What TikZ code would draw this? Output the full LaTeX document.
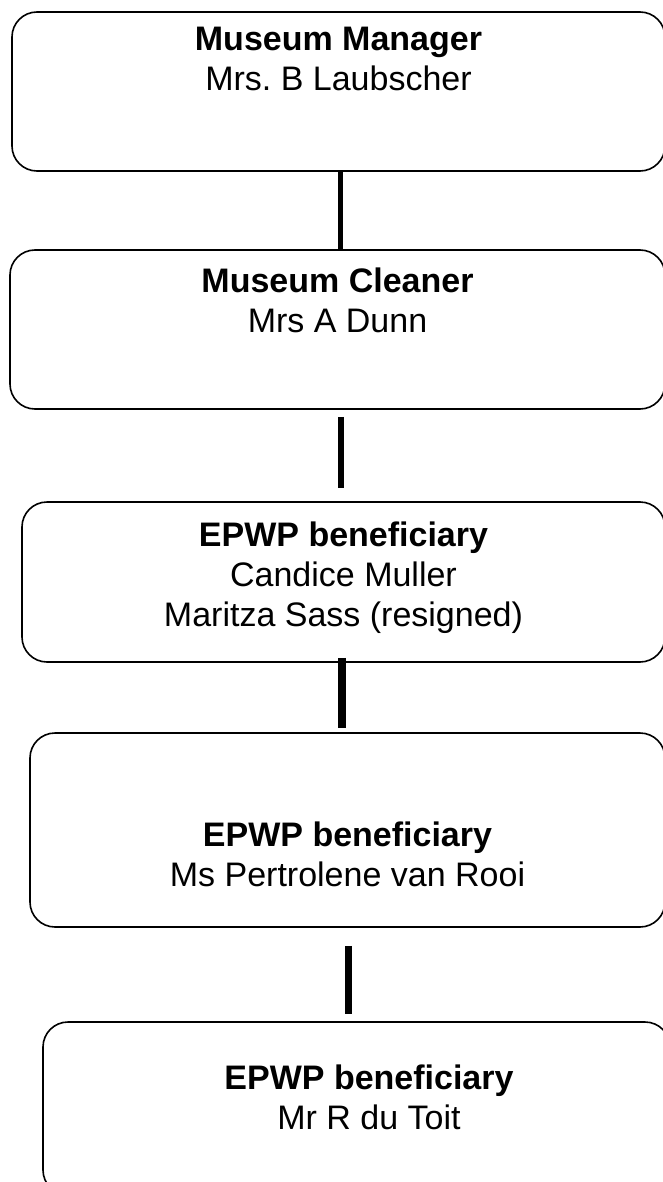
\documentclass[tikz,border=0pt]{standalone}
\usepackage{fontspec}
\setmainfont{Liberation Sans}
\usepackage{tikz}
\usetikzlibrary{positioning}
\frenchspacing

\begin{document}
\begin{tikzpicture}[
        x=1pt, y=-1pt,
        every node/.style={align=center},
        box/.style={
            rectangle, rounded corners=25pt, draw=black, line width=1.6pt,
            fill=white, inner sep=0pt
        },
        staff/.style={
            inner sep=0pt, anchor=north,
            font=\fontsize{34}{40}\selectfont
        },
        link/.style={line width=#1, line cap=butt},
    ]

    \useasboundingbox (0,0) rectangle (662,1182);

    \node (mgr)     [box, minimum width=653pt, minimum height=159pt] at (338.5,91.5)  {};
    \node (cleaner) [box, minimum width=655pt, minimum height=159pt] at (337.5,329.5) {};
    \node (epwpA)   [box, minimum width=643pt, minimum height=160pt] at (343.5,582)   {};
    \node (epwpB)   [box, minimum width=635pt, minimum height=194pt] at (347.5,830)   {};
    \node (epwpC)   [box, minimum width=627pt, minimum height=173pt] at (356.5,1108.5) {};

    \node (mgrtxt)     [staff, below=16pt of mgr.north]     {\textbf{Museum Manager}\\Mrs. B Laubscher};
    \node (cleanertxt) [staff, below=18pt of cleaner.north] {\textbf{Museum Cleaner}\\Mrs A Dunn};
    \node (epwpAtxt)   [staff, below=20pt of epwpA.north]   {\textbf{EPWP beneficiary}\\Candice Muller\\Maritza Sass (resigned)};
    \node (epwpBtxt)   [staff, below=89pt of epwpB.north]   {\textbf{EPWP beneficiary}\\Ms Pertrolene van Rooi};
    \node (epwpCtxt)   [staff, below=43pt of epwpC.north, xshift=12.5pt] {\textbf{EPWP beneficiary}\\Mr R du Toit};

    \draw [link=5pt] ([xshift=1.5pt]mgr.south) -- ([xshift=1.5pt]mgr.south |- cleaner.north);
    \draw [link=6pt, shorten <=7pt, shorten >=13pt]
        ([xshift=3.5pt]cleaner.south) -- ([xshift=3.5pt]cleaner.south |- epwpA.north);
    \draw [link=8pt, shorten <=-5pt, shorten >=4pt]
        ([xshift=-1.5pt]epwpA.south) -- ([xshift=-1.5pt]epwpA.south |- epwpB.north);
    \draw [link=7pt, shorten <=18pt, shorten >=7pt]
        ([xshift=0.5pt]epwpB.south) -- ([xshift=0.5pt]epwpB.south |- epwpC.north);

    \end{tikzpicture}
\end{document}
